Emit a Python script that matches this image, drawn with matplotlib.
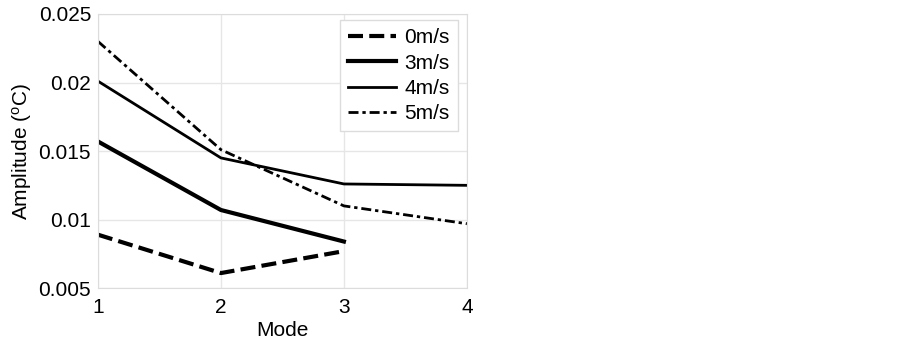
import matplotlib.pyplot as plt

plt.rcParams['font.family'] = ['Liberation Sans', 'DejaVu Sans']

modes = [1, 2, 3, 4]
amp_0 = [0.0089, 0.0061, 0.0077]
amp_3 = [0.0157, 0.0107, 0.0084]
amp_4 = [0.0201, 0.0145, 0.0126, 0.0125]
amp_5 = [0.0230, 0.0151, 0.0110, 0.0097]

fig = plt.figure(figsize=(9.02, 3.41), dpi=100)
ax = fig.add_axes([0.1086, 0.155, 0.409, 0.804])

ax.plot(modes[:3], amp_0, color='black', lw=3, ls=(0, (3.6, 1.5)), label='0m/s')
ax.plot(modes[:3], amp_3, color='black', lw=3, label='3m/s')
ax.plot(modes, amp_4, color='black', lw=2, label='4m/s')
ax.plot(modes, amp_5, color='black', lw=2, ls=(0, (3.6, 1.4, 1.2, 1.4)), label='5m/s')

ax.set_xlim(1, 4)
ax.set_ylim(0.005, 0.025)
ax.set_xticks(modes)
ax.set_yticks([0.005, 0.01, 0.015, 0.02, 0.025])
ax.set_yticklabels(['0.005', '0.01', '0.015', '0.02', '0.025'])
ax.tick_params(labelsize=15, length=0)
ax.tick_params(axis='x', pad=7)
ax.tick_params(axis='y', pad=5)
ax.grid(True, color='#e6e6e6', lw=1)
for s in ax.spines.values():
    s.set_color('#dcdcdc')

ax.set_xlabel('Mode', fontsize=15, labelpad=3)
ax.set_ylabel('Amplitude ($\\mathregular{^o}$C)', fontsize=15, labelpad=3)

leg = ax.legend(loc='upper right', bbox_to_anchor=(0.976, 0.978), borderaxespad=0,
                fontsize=15, handlelength=2.3, handletextpad=0.4, labelspacing=0.3,
                borderpad=0.4, fancybox=False, framealpha=1)
leg.get_frame().set_edgecolor('#dcdcdc')

fig.savefig('out.png')
